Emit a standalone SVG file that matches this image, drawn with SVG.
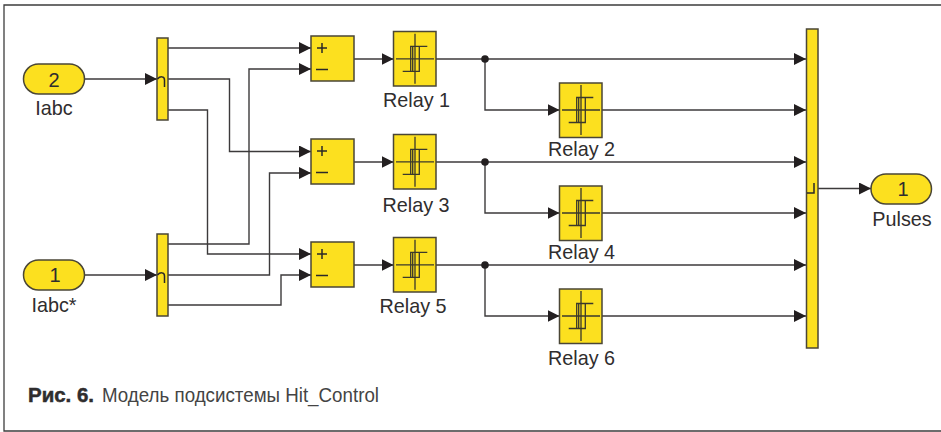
<svg xmlns="http://www.w3.org/2000/svg" xmlns:xlink="http://www.w3.org/1999/xlink" width="941" height="432" viewBox="0 0 941 432">
<style>
text{font-family:"Liberation Sans",Arial,sans-serif;fill:#2f2d2e}
.l{font-size:19.8px;text-anchor:middle}
.b{fill:#fce01f;stroke:#4a4636;stroke-width:1.5}
.w{fill:none;stroke:#3c3a3b;stroke-width:1.4;marker-end:url(#a)}
.g{fill:none;stroke:#2a2829;stroke-width:1.5}
.ax{fill:none;stroke:#3a382c;stroke-width:1.3}
</style>
<defs>
<marker id="a" markerUnits="userSpaceOnUse" markerWidth="12" markerHeight="13" refX="12" refY="6" orient="auto"><path d="M0 0L12 6L0 12z" fill="#231f20"/></marker>
<g id="relayIcon"><path class="ax" d="M-19 0H19M0-25V25"/><path class="ax" d="M-12.300 12.500H4.300V-12.500H12.300M-4.300 12.500V-12.500H4.300M-2.300-12.500V12.500"/></g>
</defs>
<rect width="941" height="432" fill="#fff"/>
<path d="M941 5H4V431H941" fill="none" stroke="#3d3d3d" stroke-width="1.300"/>
<g id="connectors">
<path class="w" d="M84.500 79H157"/>
<path class="w" d="M84.500 275H157"/>
<path class="w" d="M168 48H311"/>
<path class="w" d="M168 79H229.500V151.500H311"/>
<path class="w" d="M168 110H207.500V254H311"/>
<path class="w" d="M168 244H249V69H311"/>
<path class="w" d="M168 275H269.500V173H311"/>
<path class="w" d="M168 305H281V275H311"/>
<path class="w" d="M354 59H393.500"/>
<path class="w" d="M354 162H393.500"/>
<path class="w" d="M354 265H393.500"/>
<path class="w" d="M436 59H806"/>
<path class="w" d="M485 59V110H559.500"/>
<path class="w" d="M602 110H806"/>
<path class="w" d="M436 162H806"/>
<path class="w" d="M485 162V213H559.500"/>
<path class="w" d="M602 213H806"/>
<path class="w" d="M436 265H806"/>
<path class="w" d="M485 265V316H559.500"/>
<path class="w" d="M602 316H806"/>
<path class="w" d="M818 188.500H871"/>
<circle cx="485" cy="59" r="3.800" fill="#231f20"/>
<circle cx="485" cy="162" r="3.800" fill="#231f20"/>
<circle cx="485" cy="265" r="3.800" fill="#231f20"/>
</g>
<g id="inport2"><rect class="b" x="23.500" y="64" width="61" height="30" rx="15"/><text x="54" y="86.500" font-size="20" text-anchor="middle">2</text><text class="l" x="54" y="115">Iabc</text></g>
<g id="inport1"><rect class="b" x="23.500" y="260" width="61" height="30" rx="15"/><text x="55" y="282" font-size="20" text-anchor="middle">1</text><text class="l" x="54" y="312">Iabc*</text></g>
<g id="demux1"><rect class="b" x="157" y="38" width="11" height="82"/><path class="g" d="M157.500 79C160 76 164.500 76 164.500 80V87"/></g>
<g id="demux2"><rect class="b" x="157" y="234" width="11" height="82"/><path class="g" d="M157.500 275C160 272 164.500 272 164.500 276V283"/></g>
<g id="sum1"><rect class="b" x="311" y="36" width="43" height="45"/><path class="g" d="M317 48H327M322 43V53M316 69.500H328"/></g>
<g id="sum2"><rect class="b" x="311" y="139" width="43" height="45"/><path class="g" d="M317 151H327M322 146V156M316 172.500H328"/></g>
<g id="sum3"><rect class="b" x="311" y="242" width="43" height="45"/><path class="g" d="M317 254H327M322 249V259M316 275.500H328"/></g>
<g id="relay1"><rect class="b" x="393.500" y="31.500" width="42.500" height="54.500"/><use xlink:href="#relayIcon" x="415" y="58.800"/><text class="l" x="416.500" y="107">Relay 1</text></g>
<g id="relay2"><rect class="b" x="559.500" y="83" width="42.500" height="54.500"/><use xlink:href="#relayIcon" x="581" y="110"/><text class="l" x="581.500" y="156">Relay 2</text></g>
<g id="relay3"><rect class="b" x="393.500" y="134.500" width="42.500" height="54.500"/><use xlink:href="#relayIcon" x="415" y="161.800"/><text class="l" x="416" y="212">Relay 3</text></g>
<g id="relay4"><rect class="b" x="559.500" y="186" width="42.500" height="54.500"/><use xlink:href="#relayIcon" x="581" y="213"/><text class="l" x="581.500" y="259">Relay 4</text></g>
<g id="relay5"><rect class="b" x="393.500" y="237.500" width="42.500" height="54.500"/><use xlink:href="#relayIcon" x="415" y="264.800"/><text class="l" x="413" y="313">Relay 5</text></g>
<g id="relay6"><rect class="b" x="559.500" y="289" width="42.500" height="54.500"/><use xlink:href="#relayIcon" x="581" y="316"/><text class="l" x="581.500" y="364.500">Relay 6</text></g>
<g id="mux"><rect class="b" x="806.500" y="29" width="11.500" height="319"/><path class="g" d="M807 193H814V183"/></g>
<g id="outport1"><rect class="b" x="871" y="174" width="60.500" height="30" rx="15"/><text x="903" y="196" font-size="20" text-anchor="middle">1</text><text class="l" x="902" y="226">Pulses</text></g>
<g id="caption"><text x="28" y="402" font-size="21" font-weight="bold" textLength="66" lengthAdjust="spacingAndGlyphs" style="stroke:#2f2d2e;stroke-width:.5">Рис. 6.</text><text x="102" y="402" font-size="21" textLength="277" lengthAdjust="spacingAndGlyphs" style="fill:#444">Модель подсистемы Hit_Control</text></g>
</svg>
